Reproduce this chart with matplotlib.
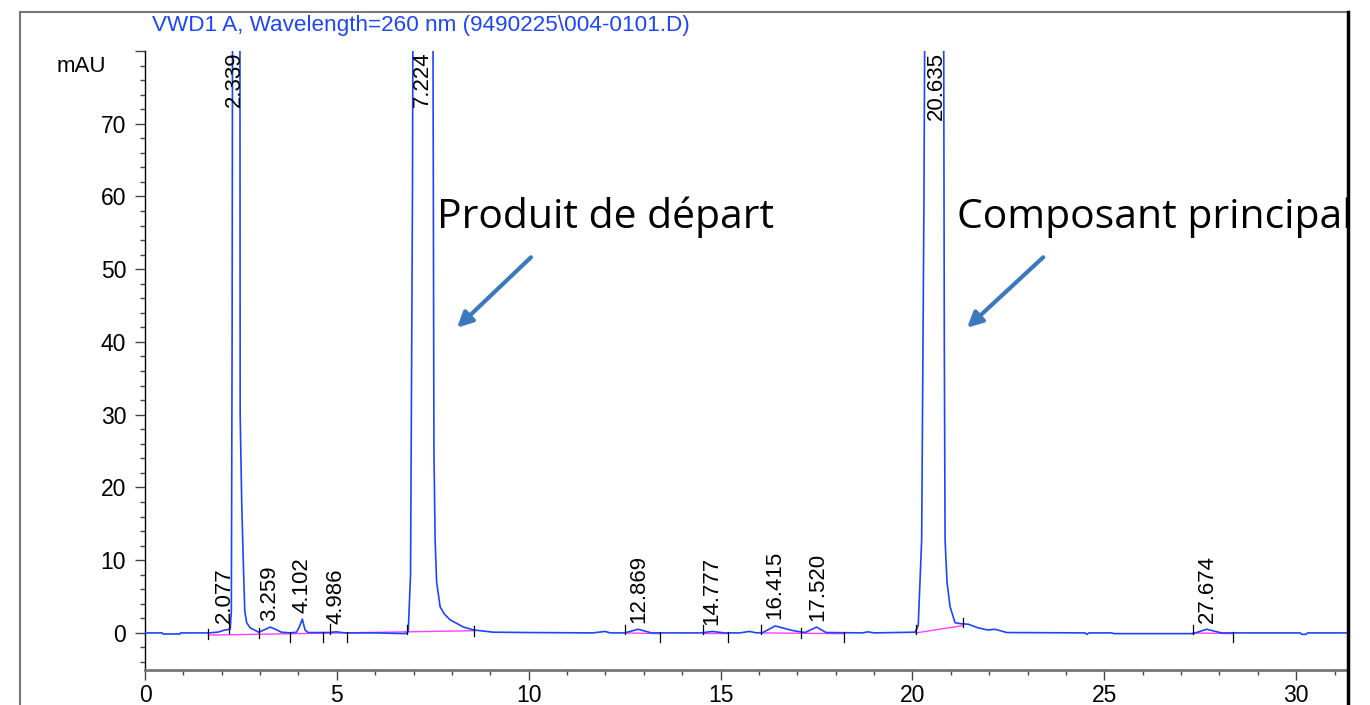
import matplotlib.pyplot as plt
from matplotlib.lines import Line2D
from matplotlib.ticker import MultipleLocator

plt.rcParams['font.family'] = ['Liberation Sans', 'DejaVu Sans']

# chromatogram trace (time in min, signal in mAU)
t_pts = [0.0, 0.45, 0.47, 0.91, 0.93, 1.65, 1.9, 2.05, 2.15, 2.22, 2.25, 2.27,
         2.29, 2.47, 2.48, 2.52, 2.56, 2.6, 2.65, 2.74, 2.96, 3.1, 3.26, 3.4,
         3.55, 3.78, 3.95, 4.02, 4.1, 4.17, 4.25, 4.8, 4.98, 5.2, 6.0, 6.8,
         6.86, 6.92, 6.97, 7.0, 7.49, 7.51, 7.53, 7.56, 7.6, 7.69, 7.8, 7.95,
         8.3, 8.57, 9.07, 10.0, 11.67, 11.99, 12.12, 12.5, 12.85, 13.2, 14.5,
         14.78, 15.1, 15.5, 15.75, 15.94, 16.1, 16.42, 16.9, 17.2, 17.5, 17.75,
         18.7, 18.84, 19.0, 20.07, 20.15, 20.24, 20.3, 20.35, 20.8, 20.83,
         20.85, 20.9, 20.98, 21.11, 21.28, 21.45, 21.71, 21.96, 22.15, 22.46,
         24.5, 24.54, 24.6, 25.19, 25.25, 27.31, 27.67, 28.05, 30.1, 30.15,
         30.25, 30.3, 31.4]
a_pts = [0.0, 0.0, -0.15, -0.15, 0.0, 0.0, 0.1, 0.35, 0.45, 0.5, 3.0, 40.0,
         120.0, 120.0, 30.0, 18.0, 10.0, 3.0, 1.4, 0.7, 0.1, 0.4, 0.8, 0.5,
         0.1, 0.0, 0.1, 0.8, 1.9, 0.4, 0.05, 0.05, 0.15, 0.0, 0.0, -0.1,
         0.2, 8.0, 60.0, 120.0, 120.0, 70.0, 25.0, 12.8, 7.0, 3.6, 2.6, 1.8,
         0.8, 0.4, 0.1, 0.05, 0.0, 0.2, 0.0, 0.0, 0.5, 0.0, 0.0,
         0.2, 0.0, 0.0, 0.2, 0.0, 0.05, 0.95, 0.3, 0.05, 0.8, 0.05,
         0.0, 0.15, 0.0, 0.1, 1.0, 12.8, 60.0, 120.0, 120.0, 40.0,
         12.8, 7.0, 3.6, 1.4, 1.25, 1.2, 0.7, 0.4, 0.5, 0.05,
         0.0, -0.2, 0.0, 0.0, -0.1, -0.1, 0.5, 0.0, 0.0, -0.2,
         -0.2, 0.0, 0.0]

# integrated peaks: retention time, apex height used for the label (mAU)
peak_rt = [2.077, 2.339, 3.259, 4.102, 4.986, 7.224, 12.869, 14.777,
           16.415, 17.520, 20.635, 27.674]
peak_h = [0.5, 200, 0.8, 1.9, 0.3, 200, 0.5, 0.2, 0.95, 0.8, 200, 0.5]

# integration baselines (start, end) and marker positions
base_t = [(1.65, 8.57), (12.52, 13.41), (14.54, 15.18), (16.04, 18.22),
          (20.09, 21.31), (27.31, 28.35)]
base_a = [(-0.3, 0.3), (0.0, -0.1), (0.0, 0.0), (0.0, -0.1), (0.0, 1.0),
          (0.0, -0.1)]
mark_t = [1.65, 2.19, 2.96, 3.78, 4.64, 4.81, 5.26, 6.84, 8.57, 12.52, 13.41,
          14.54, 15.18, 16.04, 17.10, 18.22, 20.09, 21.31, 27.31, 28.35]
mark_a = [-0.1, 0.2, 0.0, -0.1, -0.1, 0.1, -0.1, 0.0, 0.3, 0.0, -0.1,
          0.0, -0.1, 0.0, 0.0, -0.1, 0.0, 1.0, 0.0, -0.1]
mark_dir = [0, 1, 0, -1, -1, 1, -1, 1, 0, 1, -1, 1, -1, 1, 0, -1, 1, 1, 1, -1]

fig = plt.figure(figsize=(13.7, 7.05), dpi=100)
ax = fig.add_axes([145 / 1370, 1 - 670 / 705, (1348 - 145) / 1370, (670 - 51) / 705])

blue = '#1f45fc'
ax.plot(t_pts, a_pts, color=blue, lw=1.2, zorder=3)

for (t0, t1), (a0, a1) in zip(base_t, base_a):
    ax.plot([t0, t1], [a0, a1], color='#ff40ff', lw=1.0, zorder=2)

for t, a, d in zip(mark_t, mark_a, mark_dir):
    if d > 0:
        y0, y1 = a - 0.2, a + 1.1
    elif d < 0:
        y0, y1 = a - 1.1, a + 0.2
    else:
        y0, y1 = a - 0.7, a + 0.7
    ax.plot([t, t], [y0, y1], color='black', lw=0.9, zorder=4)

for rt, h in zip(peak_rt, peak_h):
    if h > 80:
        ax.text(rt, 79.9, f'{rt:.3f}', rotation=90, ha='center', va='top',
                fontsize=16, zorder=5)
    else:
        ax.text(rt, h + 0.9, f'{rt:.3f}', rotation=90, ha='center', va='bottom',
                fontsize=16, zorder=5)

ax.set_xlim(0, 31.35)
ax.set_ylim(-5.1, 80)
ax.xaxis.set_major_locator(MultipleLocator(5))
ax.xaxis.set_minor_locator(MultipleLocator(1))
ax.yaxis.set_minor_locator(MultipleLocator(2))
ax.set_yticks(range(0, 81, 10))
ax.set_yticklabels([str(v) for v in range(0, 71, 10)] + [''])
ax.tick_params(axis='both', which='major', length=7.5, width=1.0, color='#444444',
               labelsize=16.5, pad=2.5)
ax.tick_params(axis='both', which='minor', length=3.8, width=1.0, color='#444444')
ax.tick_params(axis='y', pad=6)

for side in ['top', 'right']:
    ax.spines[side].set_visible(False)
ax.spines['bottom'].set_color('#777777')
ax.spines['bottom'].set_linewidth(2.0)
ax.spines['left'].set_color('black')
ax.spines['left'].set_linewidth(1.0)

fig.text(57 / 1370, 1 - 67 / 705, 'mAU', fontsize=16, va='center', ha='left')
fig.text(152 / 1370, 1 - 26 / 705, 'VWD1 A, Wavelength=260 nm (9490225\\004-0101.D)',
         color=blue, fontsize=16.2, va='center', ha='left')

# outer frame
fig.add_artist(Line2D([20 / 1370, 20 / 1370], [0, 1 - 12 / 705], color='#777777', lw=1.5))
fig.add_artist(Line2D([20 / 1370, 1348 / 1370], [1 - 12 / 705, 1 - 12 / 705],
                      color='#777777', lw=1.5))
fig.add_artist(Line2D([1348 / 1370, 1348 / 1370], [0, 1 - 12 / 705], color='black', lw=2.5))

arrow_c = '#3b78bd'
ax.text(7.61, 55.7, 'Produit de départ', fontsize=29.4, family='Open Sans', va='baseline')
ax.text(21.16, 55.7, 'Composant principal', fontsize=29.4, family='Open Sans', va='baseline')
ax.annotate('', xy=(8.08, 41.7), xytext=(10.11, 51.9),
            arrowprops=dict(arrowstyle='-|>,head_length=0.9,head_width=0.45',
                            color=arrow_c, lw=3))
ax.annotate('', xy=(21.37, 41.7), xytext=(23.46, 51.9),
            arrowprops=dict(arrowstyle='-|>,head_length=0.9,head_width=0.45',
                            color=arrow_c, lw=3))

fig.savefig('out.png', dpi=100)
